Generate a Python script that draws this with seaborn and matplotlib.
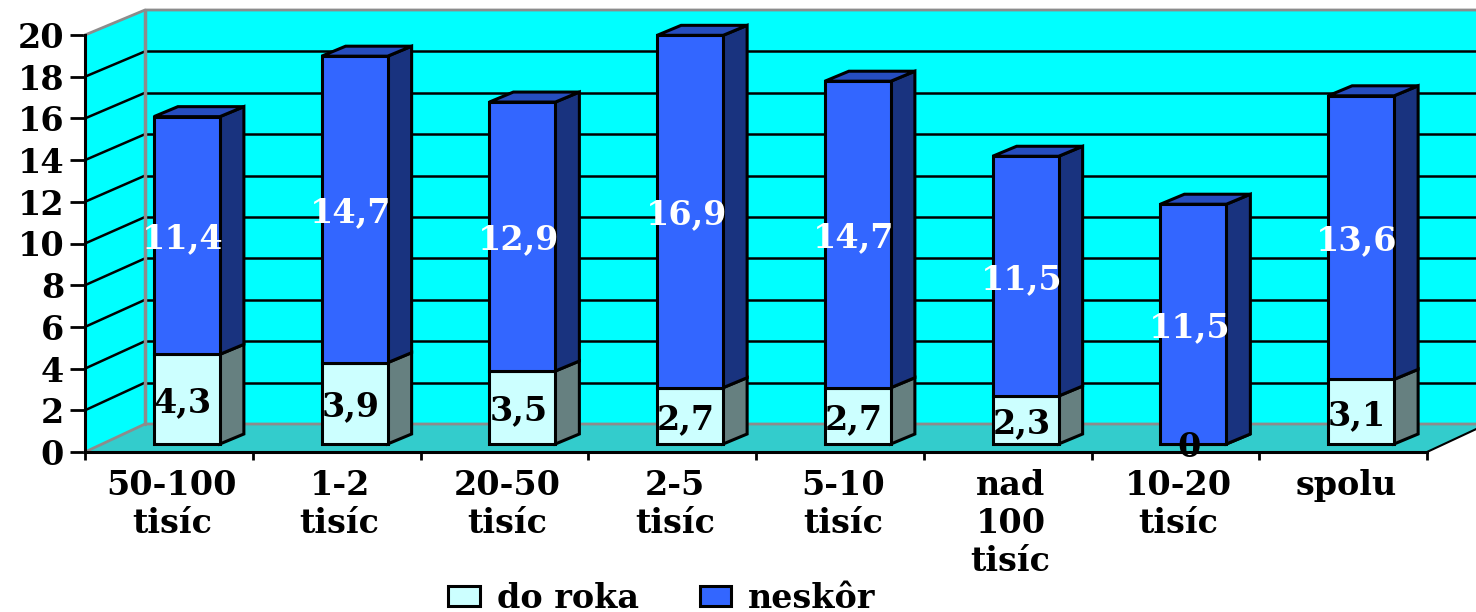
import matplotlib
matplotlib.use("Agg")
import matplotlib.pyplot as plt
from matplotlib.patches import Polygon
from matplotlib.transforms import Affine2D
import seaborn as sns

# hodnoty z grafu
categories = ["50-100\ntisíc", "1-2\ntisíc", "20-50\ntisíc", "2-5\ntisíc",
              "5-10\ntisíc", "nad\n100\ntisíc", "10-20\ntisíc", "spolu"]
do_roka = [4.3, 3.9, 3.5, 2.7, 2.7, 2.3, 0, 3.1]
neskor = [11.4, 14.7, 12.9, 16.9, 14.7, 11.5, 11.5, 13.6]
y_ticks = [0, 2, 4, 6, 8, 10, 12, 14, 16, 18, 20]

W, H = 1476, 612
font = "DejaVu Serif"
fs = 24

sns.set_theme(style="white")
plt.rcParams["font.family"] = [font, "DejaVu Sans"]
plt.rcParams["font.weight"] = "bold"
plt.rcParams["text.color"] = "black"
plt.rcParams["xtick.labelcolor"] = "black"
plt.rcParams["ytick.labelcolor"] = "black"

fig = plt.figure(figsize=(W / 100, H / 100), dpi=100, facecolor="white")
ax = fig.add_axes([85 / W, (H - 452) / H, (1427 - 85) / W, (452 - 35) / H])
ax.patch.set_alpha(0)

# pixel -> data jednotky
ux = 1 / 167.75
uy = 20 / 417

sns.barplot(x=categories, y=do_roka, color="#CCFFFF", saturation=1, width=66 * ux,
            edgecolor="black", linewidth=2.2, ax=ax, label="do roka", zorder=5)
sns.barplot(x=categories, y=neskor, bottom=do_roka, color="#3366FF", saturation=1, width=66 * ux,
            edgecolor="black", linewidth=2.2, ax=ax, label="neskôr", zorder=5)

ax.set_xlim(-0.5, 7.5)
ax.set_ylim(0, 20)

x0, x1 = -0.5, 7.5
wx = 60 * ux          # hlbka steny
back = lambda v: (28 + v * 20.7) * uy

# steny a podlaha
ax.add_patch(Polygon([(x0 + wx, back(0)), (x0 + wx, back(20)), (x1 + wx, back(20)), (x1 + wx, back(0))],
                     fc="#00FFFF", ec="none", clip_on=False, zorder=0))
ax.add_patch(Polygon([(x0, 0), (x0, 20), (x0 + wx, back(20)), (x0 + wx, back(0))],
                     fc="#00FFFF", ec="none", clip_on=False, zorder=0))
ax.add_patch(Polygon([(x0, 0), (x1, 0), (x1 + wx, back(0)), (x0 + wx, back(0))],
                     fc="#33CCCC", ec="none", clip_on=False, zorder=0))

# mriezka
for v in y_ticks[1:-1]:
    ax.plot([x0 + wx, x1 + wx], [back(v), back(v)], color="black", lw=1.8, clip_on=False, zorder=1)
    ax.plot([x0, x0 + wx], [v, back(v)], color="black", lw=1.8, clip_on=False, zorder=1)
gray = "#8C8C8C"
ax.plot([x0 + wx, x0 + wx], [back(0), back(20)], color=gray, lw=2.5, clip_on=False, zorder=2)
ax.plot([x0, x0 + wx, x1 + wx], [20, back(20), back(20)], color=gray, lw=2, clip_on=False, zorder=2)
ax.plot([x0, x0 + wx, x1 + wx], [0, back(0), back(0)], color=gray, lw=2, clip_on=False, zorder=2)
ax.plot([x1, x1 + wx], [0, back(0)], color="black", lw=1.5, clip_on=False, zorder=2)

# stlpce posunute do hlbky
shift = ax.transData + Affine2D().translate(18, 8)
dx, dy = 24 * ux, 10 * uy


def depth(bar, side_color, top_color=None):
    x, y, w, h = bar.get_x(), bar.get_y(), bar.get_width(), bar.get_height()
    bar.set_transform(shift)
    bar.set_clip_on(False)
    r = x + w
    ax.add_patch(Polygon([(r, y), (r + dx, y + dy), (r + dx, y + h + dy), (r, y + h)], closed=True,
                         fc=side_color, ec="black", lw=2.2, transform=shift, clip_on=False, zorder=4))
    if top_color:
        ax.add_patch(Polygon([(x, y + h), (x + dx, y + h + dy), (r + dx, y + h + dy), (r, y + h)], closed=True,
                             fc=top_color, ec="black", lw=2.2, transform=shift, clip_on=False, zorder=4))


def value_text(bar, value, color):
    x, y, w, h = bar.get_x(), bar.get_y(), bar.get_width(), bar.get_height()
    txt = str(value).replace(".", ",")
    ax.text(x + w / 2 - 4 * ux, y + h / 2, txt, color=color, fontsize=fs, fontweight="bold", ha="center",
            va="center_baseline", transform=shift, clip_on=False, zorder=8)


low, high = ax.containers[0], ax.containers[1]
for bar, v in zip(low, do_roka):
    depth(bar, "#668080")
    value_text(bar, v, "black")
for bar, v in zip(high, neskor):
    depth(bar, "#19337F", "#264DBF")
    value_text(bar, v, "white")

# osi
sns.despine(ax=ax, top=True, right=True)
for s in ["left", "bottom"]:
    ax.spines[s].set_linewidth(2.2)
    ax.spines[s].set_color("black")
    ax.spines[s].set_zorder(3)
ax.set_yticks(y_ticks)
ax.set_yticklabels([str(v) for v in y_ticks], fontsize=fs, fontweight="bold", color="black")
ax.tick_params(axis="y", length=11, width=2, color="black", pad=4, left=True)
ax.set_xticks([i - 0.5 for i in range(9)], [""] * 9)
ax.tick_params(axis="x", which="major", length=6, width=2, color="black", bottom=True)
ax.set_xticks(range(8), categories, minor=True, fontsize=fs, fontweight="bold", linespacing=1.2, color="black")
ax.tick_params(axis="x", which="minor", length=0, pad=12)
for t in ax.get_xticklabels(minor=True):
    t.set_transform(t.get_transform() + Affine2D().translate(3, 0))

leg = ax.legend([low[0], high[0]], ["do roka", "neskôr"], ncol=2, frameon=False, loc="center",
                bbox_to_anchor=(662 / W, (H - 598) / H), bbox_transform=fig.transFigure,
                fontsize=fs, handlelength=0.95, handleheight=0.55, columnspacing=1.83, handletextpad=0.5,
                borderpad=0, borderaxespad=0)
for t in leg.get_texts():
    t.set_color("black")

fig.savefig("out.png", dpi=100)
